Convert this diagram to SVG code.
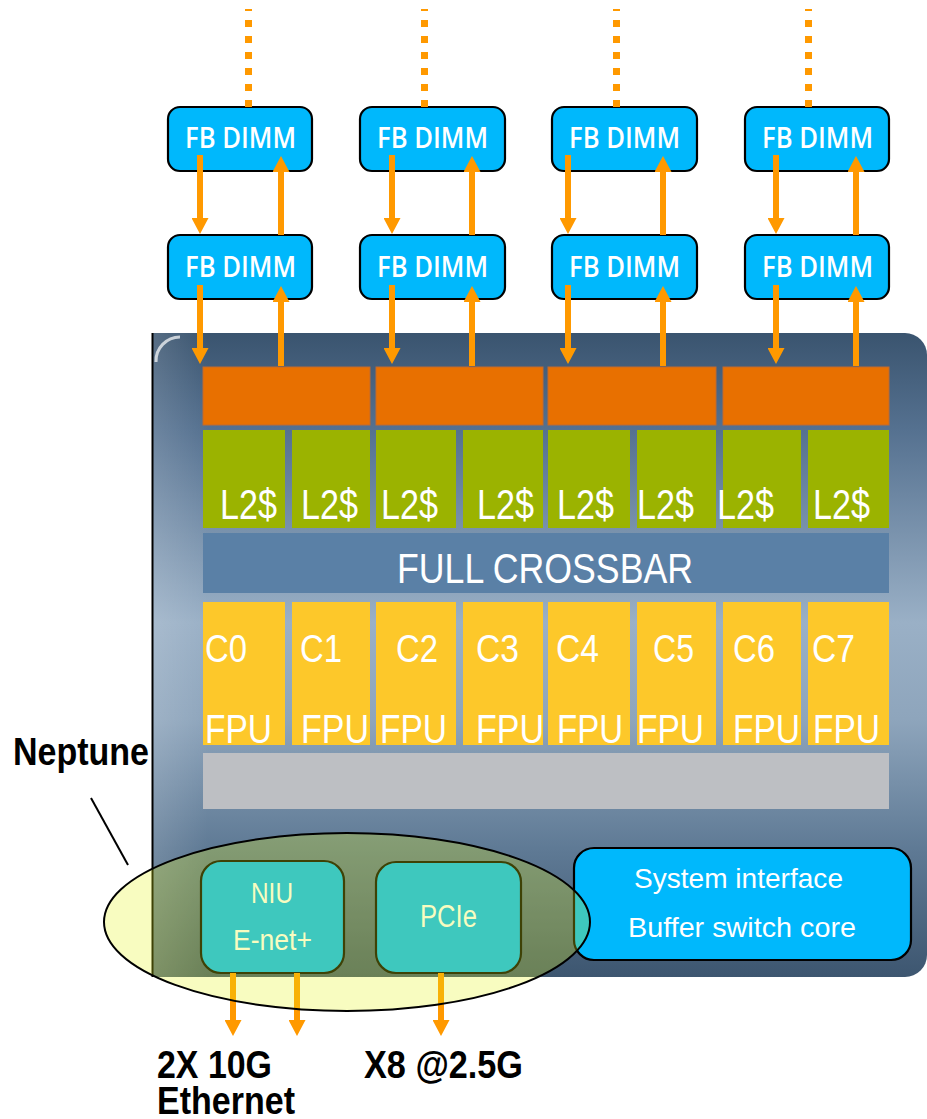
<svg xmlns="http://www.w3.org/2000/svg" width="927" height="1119" viewBox="0 0 927 1119">
<defs>
<linearGradient id="chipG" x1="0" y1="0" x2="0" y2="1">
<stop offset="0" stop-color="#3a546f"/>
<stop offset="0.15" stop-color="#557190"/>
<stop offset="0.45" stop-color="#9ab0c6"/>
<stop offset="0.6" stop-color="#8ea5bc"/>
<stop offset="0.8" stop-color="#5f7a95"/>
<stop offset="1" stop-color="#3d5670"/>
</linearGradient>
<linearGradient id="leftG" x1="0" y1="0" x2="1" y2="0">
<stop offset="0" stop-color="#ffffff" stop-opacity="0.14"/>
<stop offset="1" stop-color="#ffffff" stop-opacity="0"/>
</linearGradient>
<marker id="ah" viewBox="0 0 16 17" refX="1" refY="8.5" markerWidth="16" markerHeight="17" markerUnits="userSpaceOnUse" orient="auto">
<path d="M0,0 L16,8.5 L0,17 Z" fill="#ff9900"/>
</marker>
<style>
.box{fill:#00b8fc;stroke:#000;stroke-width:2.2}
.dimmT{font-family:"Open Sans","Noto Sans",sans-serif;font-weight:600;font-size:28px;fill:#fff}
.wt{font-family:"Liberation Sans",Arial,sans-serif;fill:#fff}
.bk{font-family:"Liberation Sans",Arial,sans-serif;font-weight:bold;fill:#000;font-size:39px}
.org{fill:#e87000;stroke:#c06a30;stroke-width:1}
.grn{fill:#9bb300}
.yel{fill:#fdc82a}
.arr{stroke:#ff9900;stroke-width:6;fill:none;marker-end:url(#ah)}
.dot{stroke:#ff9900;stroke-width:7;fill:none;stroke-dasharray:7 9}
</style>
</defs>
<rect width="927" height="1119" fill="#ffffff"/>

<g id="chip">
<path d="M153,333 H905 A22,22 0 0 1 927,355 V955 A22,22 0 0 1 905,977 H153 Z" fill="url(#chipG)"/>
<rect x="153" y="333" width="55" height="644" fill="url(#leftG)"/>
<path d="M156,362 A24,24 0 0 1 180,337" stroke="#ffffff" stroke-opacity="0.7" stroke-width="3" fill="none"/>
<line x1="152.5" y1="333" x2="152.5" y2="977" stroke="#000" stroke-width="2"/>
</g>

<g id="memctl">
<rect class="org" x="203" y="367" width="167" height="58"/>
<rect class="org" x="376" y="367" width="167" height="58"/>
<rect class="org" x="548" y="367" width="168" height="58"/>
<rect class="org" x="723" y="367" width="166" height="58"/>
</g>

<g id="l2">
<rect class="grn" x="203" y="430" width="82" height="98"/>
<rect class="grn" x="292" y="430" width="78" height="98"/>
<rect class="grn" x="376" y="430" width="80" height="98"/>
<rect class="grn" x="463" y="430" width="80" height="98"/>
<rect class="grn" x="548" y="430" width="82" height="98"/>
<rect class="grn" x="637" y="430" width="79" height="98"/>
<rect class="grn" x="723" y="430" width="78" height="98"/>
<rect class="grn" x="808" y="430" width="81" height="98"/>
<g class="wt" font-size="43">
<text x="220" y="519" textLength="57" lengthAdjust="spacingAndGlyphs">L2$</text>
<text x="301" y="519" textLength="57" lengthAdjust="spacingAndGlyphs">L2$</text>
<text x="381" y="519" textLength="57" lengthAdjust="spacingAndGlyphs">L2$</text>
<text x="477" y="519" textLength="57" lengthAdjust="spacingAndGlyphs">L2$</text>
<text x="557" y="519" textLength="57" lengthAdjust="spacingAndGlyphs">L2$</text>
<text x="637" y="519" textLength="57" lengthAdjust="spacingAndGlyphs">L2$</text>
<text x="717" y="519" textLength="57" lengthAdjust="spacingAndGlyphs">L2$</text>
<text x="813" y="519" textLength="57" lengthAdjust="spacingAndGlyphs">L2$</text>
</g>
</g>

<g id="crossbar">
<rect x="203" y="533" width="686" height="60" fill="#5a80a6"/>
<text class="wt" x="397" y="583" font-size="42" textLength="296" lengthAdjust="spacingAndGlyphs">FULL CROSSBAR</text>
</g>

<g id="cores">
<rect class="yel" x="203" y="602" width="82" height="143"/>
<rect class="yel" x="292" y="602" width="78" height="143"/>
<rect class="yel" x="376" y="602" width="80" height="143"/>
<rect class="yel" x="463" y="602" width="80" height="143"/>
<rect class="yel" x="548" y="602" width="82" height="143"/>
<rect class="yel" x="637" y="602" width="79" height="143"/>
<rect class="yel" x="723" y="602" width="78" height="143"/>
<rect class="yel" x="808" y="602" width="81" height="143"/>
<g class="wt" font-size="39">
<text x="205" y="662" textLength="42" lengthAdjust="spacingAndGlyphs">C0</text>
<text x="300" y="662" textLength="42" lengthAdjust="spacingAndGlyphs">C1</text>
<text x="396" y="662" textLength="42" lengthAdjust="spacingAndGlyphs">C2</text>
<text x="476" y="662" textLength="43" lengthAdjust="spacingAndGlyphs">C3</text>
<text x="556" y="662" textLength="43" lengthAdjust="spacingAndGlyphs">C4</text>
<text x="653" y="662" textLength="41" lengthAdjust="spacingAndGlyphs">C5</text>
<text x="733" y="662" textLength="42" lengthAdjust="spacingAndGlyphs">C6</text>
<text x="812" y="662" textLength="43" lengthAdjust="spacingAndGlyphs">C7</text>
</g>
<g class="wt" font-size="40">
<text x="205" y="743" textLength="67" lengthAdjust="spacingAndGlyphs">FPU</text>
<text x="301" y="743" textLength="68" lengthAdjust="spacingAndGlyphs">FPU</text>
<text x="380" y="743" textLength="67" lengthAdjust="spacingAndGlyphs">FPU</text>
<text x="476" y="743" textLength="68" lengthAdjust="spacingAndGlyphs">FPU</text>
<text x="557" y="743" textLength="66" lengthAdjust="spacingAndGlyphs">FPU</text>
<text x="637" y="743" textLength="67" lengthAdjust="spacingAndGlyphs">FPU</text>
<text x="733" y="743" textLength="67" lengthAdjust="spacingAndGlyphs">FPU</text>
<text x="813" y="743" textLength="67" lengthAdjust="spacingAndGlyphs">FPU</text>
</g>
</g>

<g id="graybar">
<rect x="203" y="753" width="686" height="56" fill="#bdbfc3"/>
</g>

<g id="dimm1a"><rect class="box" x="168" y="107" width="144" height="64" rx="12"/><text class="dimmT" x="185" y="148" textLength="111" lengthAdjust="spacingAndGlyphs">FB DIMM</text></g>
<g id="dimm2a"><rect class="box" x="360" y="107" width="145" height="64" rx="12"/><text class="dimmT" x="377" y="148" textLength="111" lengthAdjust="spacingAndGlyphs">FB DIMM</text></g>
<g id="dimm3a"><rect class="box" x="552" y="107" width="145" height="64" rx="12"/><text class="dimmT" x="569" y="148" textLength="111" lengthAdjust="spacingAndGlyphs">FB DIMM</text></g>
<g id="dimm4a"><rect class="box" x="745" y="107" width="144" height="64" rx="12"/><text class="dimmT" x="762" y="148" textLength="111" lengthAdjust="spacingAndGlyphs">FB DIMM</text></g>
<g id="dimm1b"><rect class="box" x="168" y="235" width="144" height="64" rx="12"/><text class="dimmT" x="185" y="277" textLength="111" lengthAdjust="spacingAndGlyphs">FB DIMM</text></g>
<g id="dimm2b"><rect class="box" x="360" y="235" width="145" height="64" rx="12"/><text class="dimmT" x="377" y="277" textLength="111" lengthAdjust="spacingAndGlyphs">FB DIMM</text></g>
<g id="dimm3b"><rect class="box" x="552" y="235" width="145" height="64" rx="12"/><text class="dimmT" x="569" y="277" textLength="111" lengthAdjust="spacingAndGlyphs">FB DIMM</text></g>
<g id="dimm4b"><rect class="box" x="745" y="235" width="144" height="64" rx="12"/><text class="dimmT" x="762" y="277" textLength="111" lengthAdjust="spacingAndGlyphs">FB DIMM</text></g>

<g id="sysif">
<rect class="box" x="574" y="848" width="337" height="112" rx="20"/>
<text class="wt" x="634" y="888" font-size="28" textLength="209" lengthAdjust="spacingAndGlyphs">System interface</text>
<text class="wt" x="628" y="937" font-size="28" textLength="228" lengthAdjust="spacingAndGlyphs">Buffer switch core</text>
</g>
<g id="niu">
<rect class="box" x="201" y="861" width="143" height="112" rx="20"/>
<text class="wt" x="251" y="903" font-size="30" textLength="42" lengthAdjust="spacingAndGlyphs">NIU</text>
<text class="wt" x="233" y="950" font-size="30" textLength="79" lengthAdjust="spacingAndGlyphs">E-net+</text>
</g>
<g id="pcie">
<rect class="box" x="376" y="862" width="145" height="111" rx="20"/>
<text class="wt" x="420" y="927" font-size="31" textLength="57" lengthAdjust="spacingAndGlyphs">PCIe</text>
</g>

<g id="connectors">
<line class="dot" x1="248.5" y1="107" x2="248.5" y2="9"/>
<line class="dot" x1="424.5" y1="107" x2="424.5" y2="9"/>
<line class="dot" x1="616.5" y1="107" x2="616.5" y2="9"/>
<line class="dot" x1="808.5" y1="107" x2="808.5" y2="9"/>

<line class="arr" x1="200" y1="155" x2="200" y2="219"/>
<line class="arr" x1="281" y1="235" x2="281" y2="171"/>
<line class="arr" x1="392" y1="155" x2="392" y2="219"/>
<line class="arr" x1="472" y1="235" x2="472" y2="171"/>
<line class="arr" x1="568" y1="155" x2="568" y2="219"/>
<line class="arr" x1="663" y1="235" x2="663" y2="171"/>
<line class="arr" x1="776" y1="155" x2="776" y2="219"/>
<line class="arr" x1="856" y1="235" x2="856" y2="171"/>

<line class="arr" x1="200" y1="285" x2="200" y2="349"/>
<line class="arr" x1="281" y1="366" x2="281" y2="301"/>
<line class="arr" x1="392" y1="285" x2="392" y2="349"/>
<line class="arr" x1="472" y1="366" x2="472" y2="301"/>
<line class="arr" x1="568" y1="285" x2="568" y2="349"/>
<line class="arr" x1="663" y1="366" x2="663" y2="301"/>
<line class="arr" x1="776" y1="285" x2="776" y2="349"/>
<line class="arr" x1="856" y1="366" x2="856" y2="301"/>

<line class="arr" x1="233" y1="973" x2="233" y2="1021"/>
<line class="arr" x1="297" y1="973" x2="297" y2="1021"/>
<line class="arr" x1="441" y1="973" x2="441" y2="1021"/>
</g>

<g id="neptune">
<ellipse cx="347" cy="922" rx="243" ry="89" fill="rgb(229,244,22)" fill-opacity="0.27" stroke="#000" stroke-width="2"/>
<line x1="91" y1="798" x2="128" y2="865" stroke="#000" stroke-width="2"/>
<text class="bk" x="13" y="765" textLength="136" lengthAdjust="spacingAndGlyphs">Neptune</text>
</g>

<g id="labels">
<text class="bk" x="157" y="1078" textLength="115" lengthAdjust="spacingAndGlyphs">2X 10G</text>
<text class="bk" x="157" y="1114" textLength="138" lengthAdjust="spacingAndGlyphs">Ethernet</text>
<text class="bk" x="364" y="1078" textLength="159" lengthAdjust="spacingAndGlyphs">X8 @2.5G</text>
</g>
</svg>
